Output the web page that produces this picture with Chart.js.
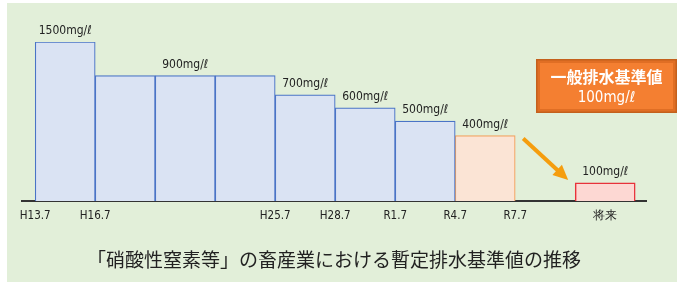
<!DOCTYPE html>
<html>
<head>
<meta charset="utf-8">
<script src="https://cdn.jsdelivr.net/npm/chart.js@4/dist/chart.umd.min.js"></script>
<style>
  html, body { margin: 0; padding: 0; background: #ffffff; }
  #wrap { width: 681px; height: 284px; }
</style>
</head>
<body>
<div id="wrap"><canvas id="limitChart" width="681" height="284"></canvas></div>
<script>
// period boundaries, one bar between each pair
const periods = ['H13.7', 'H16.7', 'H19.7', 'H22.7', 'H25.7', 'H28.7', 'R1.7', 'R4.7', 'R7.7'];
const hiddenTicks = ['H19.7', 'H22.7'];
const pastLimits = [1500, 900, 900, 900, 700, 600, 500]; // mg/l
const currentLimits = [400];                              // R4.7 - R7.7
const futureLabel = '将来';
const futureLimits = [100];
const generalLabel = '一般排水基準値';
const generalLimit = 100;
const unit = 'mg/ℓ';
const titleText = '「硝酸性窒素等」の畜産業における暫定排水基準値の推移';

// the original figure is not to scale; these stops reproduce its bar heights
const axisStops = [[0, 0], [100, 0.113], [400, 0.411], [500, 0.502], [600, 0.585], [700, 0.667], [900, 0.789], [1500, 1]];

function toDecimal(v) {
  for (let i = 1; i < axisStops.length; i++) {
    const [v0, d0] = axisStops[i - 1];
    const [v1, d1] = axisStops[i];
    if (v <= v1) return d0 + (v - v0) / (v1 - v0) * (d1 - d0);
  }
  return 1;
}

class SchematicScale extends Chart.LinearScale {
  static id = 'schematic';
  static defaults = Chart.LinearScale.defaults;
  getPixelForValue(value) {
    if (value === null || value === undefined) return NaN;
    return this.getPixelForDecimal(toDecimal(value));
  }
}
Chart.register(SchematicScale);

const labelFont = "'DejaVu Sans Condensed', 'DejaVu Sans', sans-serif";
const cjkFont = "'Noto Sans CJK JP', 'Noto Sans', sans-serif";

// tick positions: boundaries plus the centre of the future slot
const futureX = periods.length + 0.5;
const tickValues = [];
const tickText = {};
periods.forEach((p, i) => {
  if (!hiddenTicks.includes(p)) { tickValues.push(i); tickText[i] = p; }
});
tickValues.push(futureX);
tickText[futureX] = futureLabel;

const pastData = pastLimits.map((v, i) => ({ x: i + 0.5, y: v }));
const currentData = currentLimits.map((v, i) => ({ x: pastLimits.length + i + 0.5, y: v }));
const futureData = futureLimits.map((v) => ({ x: futureX, y: v }));

const panelPlugin = {
  id: 'panel',
  beforeDraw(chart) {
    const ctx = chart.ctx;
    ctx.save();
    ctx.fillStyle = '#e2efd9';
    ctx.fillRect(7, 3, 670, 279);
    ctx.restore();
  }
};

// value labels centred over each run of equal limits
const valueLabelPlugin = {
  id: 'valueLabels',
  afterDatasetsDraw(chart) {
    const ctx = chart.ctx;
    ctx.save();
    ctx.font = '12px ' + labelFont;
    ctx.fillStyle = '#222222';
    ctx.textAlign = 'center';
    ctx.textBaseline = 'middle';
    chart.data.datasets.forEach((ds, di) => {
      const bars = chart.getDatasetMeta(di).data;
      let start = 0;
      for (let i = 1; i <= ds.data.length; i++) {
        if (i === ds.data.length || ds.data[i].y !== ds.data[start].y) {
          const cx = (bars[start].x + bars[i - 1].x) / 2;
          ctx.fillText(ds.data[start].y + unit, cx, bars[start].y - 11);
          start = i;
        }
      }
    });
    ctx.restore();
  }
};

// arrow from the current limit to the future one, plus the orange note
const notePlugin = {
  id: 'note',
  afterDatasetsDraw(chart) {
    const ctx = chart.ctx;
    const cur = chart.getDatasetMeta(1).data[0];
    const fut = chart.getDatasetMeta(2).data[0];
    const x0 = cur.x + cur.width / 2 + 8, y0 = cur.y + 3;
    const x1 = fut.x - fut.width / 2 - 7, y1 = fut.y - 3;
    const ang = Math.atan2(y1 - y0, x1 - x0);
    ctx.save();
    ctx.strokeStyle = '#f59d0e';
    ctx.fillStyle = '#f59d0e';
    ctx.lineWidth = 4;
    ctx.beginPath();
    ctx.moveTo(x0, y0);
    ctx.lineTo(x1 - 10 * Math.cos(ang), y1 - 10 * Math.sin(ang));
    ctx.stroke();
    ctx.beginPath();
    ctx.moveTo(x1, y1);
    ctx.lineTo(x1 - 15 * Math.cos(ang) + 7 * Math.sin(ang), y1 - 15 * Math.sin(ang) - 7 * Math.cos(ang));
    ctx.lineTo(x1 - 15 * Math.cos(ang) - 7 * Math.sin(ang), y1 - 15 * Math.sin(ang) + 7 * Math.cos(ang));
    ctx.closePath();
    ctx.fill();

    const bx = 536, by = 59, bw = 141, bh = 54;
    ctx.fillStyle = '#c4601c';
    ctx.fillRect(bx, by, bw, bh);
    ctx.fillStyle = '#e06e24';
    ctx.fillRect(bx + 1.5, by + 1.5, bw - 3, bh - 3);
    ctx.fillStyle = '#f47f31';
    ctx.fillRect(bx + 4, by + 4, bw - 8, bh - 8);
    ctx.fillStyle = '#ffffff';
    ctx.textAlign = 'center';
    ctx.textBaseline = 'middle';
    ctx.font = 'bold 16px ' + cjkFont;
    ctx.fillText(generalLabel, bx + bw / 2, by + 18);
    ctx.font = '15px ' + labelFont;
    ctx.fillText(generalLimit + unit, bx + bw / 2, by + 39);
    ctx.restore();
  }
};

const ctx = document.getElementById('limitChart').getContext('2d');
const limitChart = new Chart(ctx, {
  type: 'bar',
  data: {
    datasets: [{
      label: 'past',
      data: pastData,
      backgroundColor: '#dae3f3',
      borderColor: '#4a74c6',
      borderWidth: 1.2
    }, {
      label: 'current',
      data: currentData,
      backgroundColor: '#fbe4d5',
      borderColor: '#f2a25e',
      borderWidth: 1.2
    }, {
      label: 'future',
      data: futureData,
      backgroundColor: '#fdd8d3',
      borderColor: '#e8323a',
      borderWidth: 1.5
    }]
  },
  options: {
    responsive: false,
    animation: false,
    events: [],
    grouped: false,
    categoryPercentage: 1,
    barPercentage: 1,
    borderSkipped: 'bottom',
    layout: { padding: { left: 22, right: 35, top: 42, bottom: 12.5 } },
    scales: {
      x: {
        type: 'linear',
        offset: false,
        min: -0.22,
        max: 10.18,
        grid: { display: false, drawTicks: false },
        border: { display: true, color: '#333333', width: 2 },
        afterBuildTicks: (scale) => {
          scale.ticks = tickValues.map(v => ({ value: v }));
        },
        ticks: {
          autoSkip: false,
          maxRotation: 0,
          padding: 8,
          color: '#222222',
          font: { family: labelFont, size: 11.5 },
          callback: (value) => tickText[value]
        }
      },
      y: {
        type: 'schematic',
        display: false,
        min: 0,
        max: 1500
      }
    },
    plugins: {
      legend: { display: false },
      tooltip: { enabled: false },
      title: {
        display: true,
        position: 'bottom',
        text: titleText,
        color: '#222222',
        font: { family: cjkFont, size: 19, weight: 'normal' },
        padding: { top: 18, bottom: 0 }
      }
    }
  },
  plugins: [panelPlugin, valueLabelPlugin, notePlugin]
});
</script>
</body>
</html>
